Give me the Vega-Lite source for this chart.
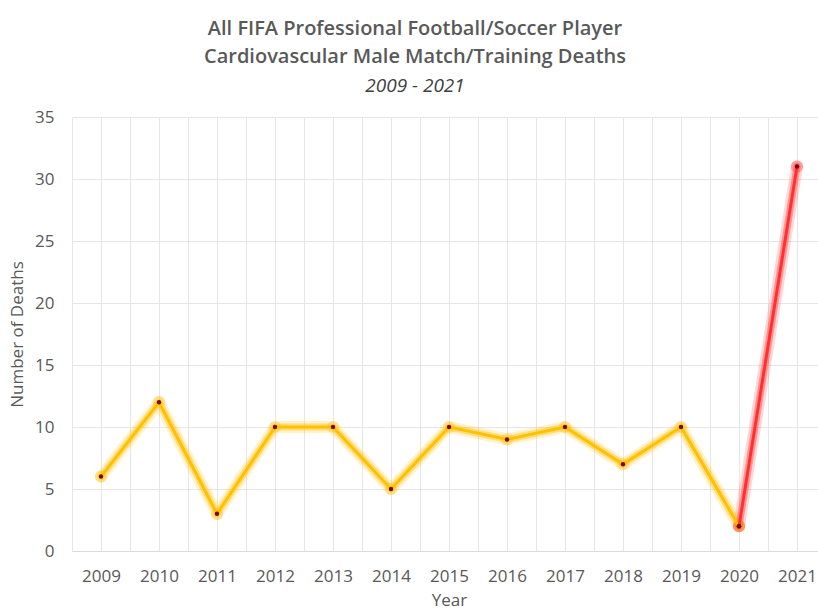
{
  "$schema": "https://vega.github.io/schema/vega-lite/v6.json",
  "autosize": "none",
  "width": 754,
  "height": 434,
  "padding": {"left": 72, "top": 117, "right": 0, "bottom": 59},
  "background": "white",
  "title": {
    "text": ["All FIFA Professional Football/Soccer Player", "Cardiovascular Male Match/Training Deaths"],
    "subtitle": "2009 - 2021",
    "anchor": "middle",
    "dx": -34,
    "offset": 12,
    "font": "Open Sans",
    "fontSize": 20,
    "fontWeight": 600,
    "lineHeight": 28,
    "color": "#595959",
    "subtitleFont": "Open Sans",
    "subtitleFontSize": 19,
    "subtitleFontStyle": "italic",
    "subtitleColor": "#404040",
    "subtitlePadding": 10
  },
  "config": {
    "view": {"stroke": null},
    "axis": {
      "labelFont": "Open Sans",
      "titleFont": "Open Sans",
      "labelFontSize": 17,
      "titleFontSize": 17,
      "labelColor": "#595959",
      "titleColor": "#595959",
      "titleFontWeight": "normal",
      "gridColor": "#E6E6E6",
      "gridWidth": 1,
      "ticks": false
    }
  },
  "datasets": {
    "deaths": [
      {"year": 2009, "deaths": 6, "segment": "base"},
      {"year": 2010, "deaths": 12, "segment": "base"},
      {"year": 2011, "deaths": 3, "segment": "base"},
      {"year": 2012, "deaths": 10, "segment": "base"},
      {"year": 2013, "deaths": 10, "segment": "base"},
      {"year": 2014, "deaths": 5, "segment": "base"},
      {"year": 2015, "deaths": 10, "segment": "base"},
      {"year": 2016, "deaths": 9, "segment": "base"},
      {"year": 2017, "deaths": 10, "segment": "base"},
      {"year": 2018, "deaths": 7, "segment": "base"},
      {"year": 2019, "deaths": 10, "segment": "base"},
      {"year": 2020, "deaths": 2, "segment": "base"},
      {"year": 2020, "deaths": 2, "segment": "spike"},
      {"year": 2021, "deaths": 31, "segment": "spike"}
    ]
  },
  "data": {"name": "deaths"},
  "encoding": {
    "x": {
      "field": "year",
      "type": "quantitative",
      "scale": {"domain": [2008.5, 2021.5], "nice": false, "zero": false},
      "axis": {
        "title": "Year",
        "values": [2008.5, 2009, 2009.5, 2010, 2010.5, 2011, 2011.5, 2012, 2012.5, 2013, 2013.5, 2014, 2014.5, 2015, 2015.5, 2016, 2016.5, 2017, 2017.5, 2018, 2018.5, 2019, 2019.5, 2020, 2020.5, 2021, 2021.5],
        "labelExpr": "datum.value % 1 == 0 ? format(datum.value, 'd') : ''",
        "labelPadding": 17,
        "titlePadding": 8,
        "domainColor": "#D9D9D9",
        "labelFlush": false,
        "labelOverlap": false
      }
    },
    "y": {
      "field": "deaths",
      "type": "quantitative",
      "scale": {"domain": [0, 35], "nice": false},
      "axis": {
        "title": "Number of Deaths",
        "values": [0, 5, 10, 15, 20, 25, 30, 35],
        "labelPadding": 18,
        "titlePadding": 8,
        "domain": false
      }
    },
    "detail": {"field": "segment"}
  },
  "layer": [
    {
      "mark": {"type": "line", "strokeWidth": 12, "opacity": 0.2, "strokeCap": "round", "strokeJoin": "round"},
      "encoding": {
        "color": {"field": "segment", "type": "nominal", "scale": {"domain": ["base", "spike"], "range": ["#FFC000", "#FF3030"]}, "legend": null}
      }
    },
    {
      "mark": {"type": "line", "strokeWidth": 7, "opacity": 0.4, "strokeCap": "round", "strokeJoin": "round"},
      "encoding": {
        "color": {"field": "segment", "type": "nominal", "scale": {"domain": ["base", "spike"], "range": ["#FFC000", "#FF3030"]}, "legend": null}
      }
    },
    {
      "mark": {"type": "point", "filled": true, "size": 150, "opacity": 0.35},
      "encoding": {
        "color": {"field": "segment", "type": "nominal", "scale": {"domain": ["base", "spike"], "range": ["#FFC000", "#FF3030"]}, "legend": null}
      }
    },
    {
      "mark": {"type": "line", "strokeWidth": 3, "strokeCap": "round", "strokeJoin": "round"},
      "encoding": {
        "color": {"field": "segment", "type": "nominal", "scale": {"domain": ["base", "spike"], "range": ["#F2B300", "#FF0000"]}, "legend": null}
      }
    },
    {
      "mark": {"type": "point", "filled": true, "size": 20, "color": "#7A0A0A", "opacity": 1},
      "encoding": {}
    }
  ]
}
